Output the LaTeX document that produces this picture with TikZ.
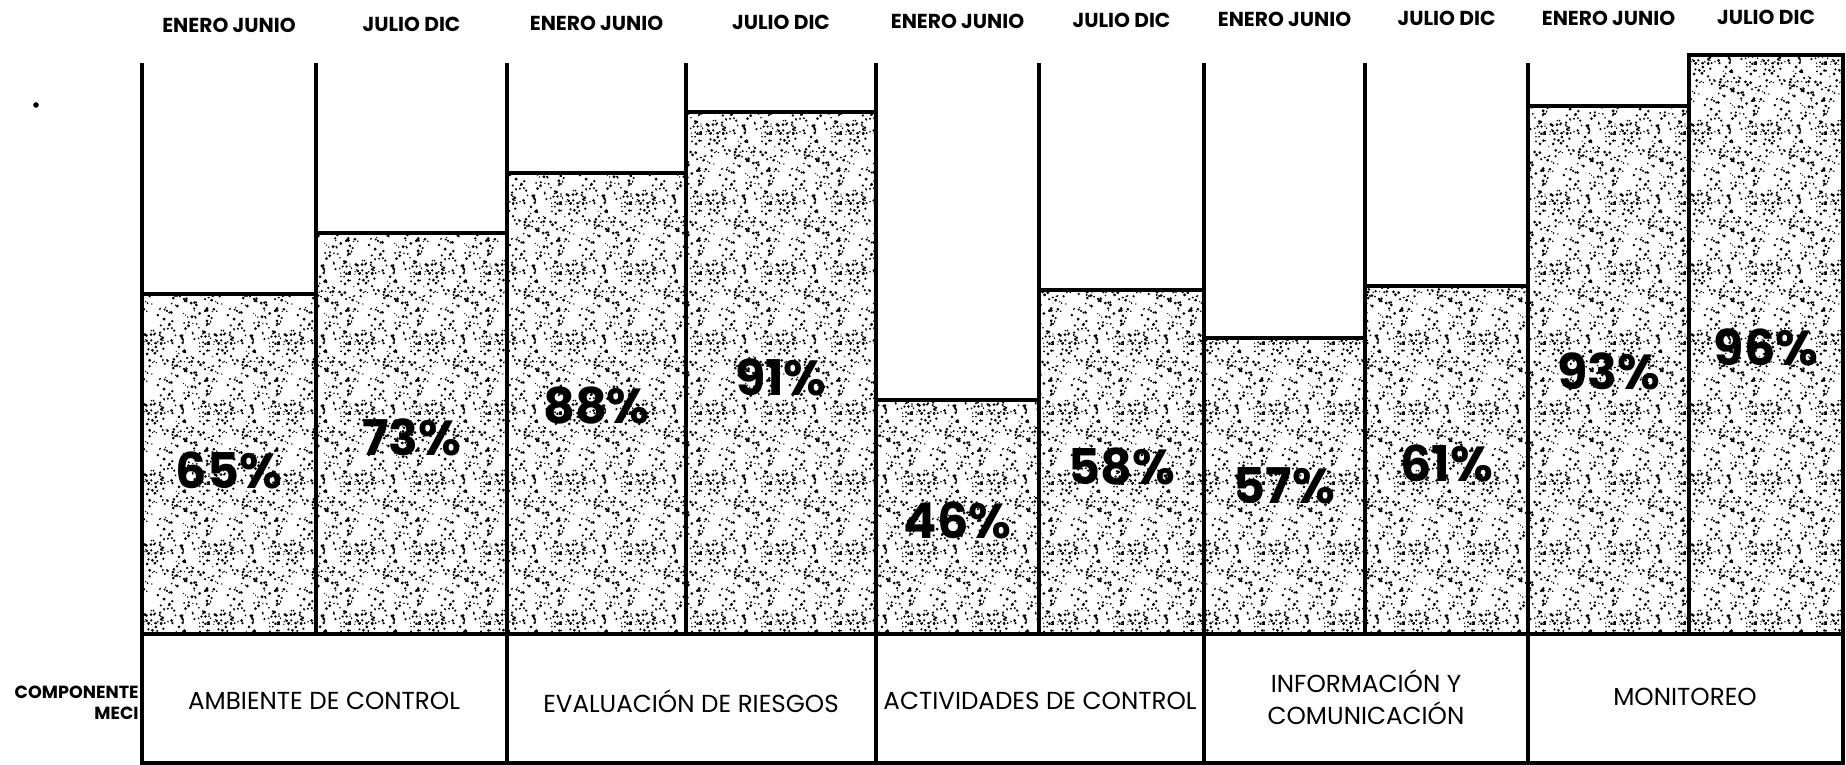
\documentclass[tikz,border=0pt]{standalone}
\usepackage{fontspec}
\setmainfont{Poppins}
\usetikzlibrary{patterns.meta}

%Stipple texture of the bars
\tikzdeclarepattern{
  name=stipple,
  type=colored,
  bottom left={(0pt,0pt)},
  top right={(40pt,40pt)},
  tile size={(40pt,40pt)},
  code={
    \pgfmathsetseed{4242}
    \foreach \d in {1,...,180}
      \fill[black] ({40pt*rnd},{40pt*rnd}) circle ({0.35pt+0.6pt*rnd});
  }
}

\begin{document}
\begin{tikzpicture}[x=0.2mm, y=-0.2mm,
  frameLine/.style={line width=2pt},
  barBlock/.style={frameLine, pattern=stipple},
  periodLabel/.style={font=\bfseries\fontsize{11.5}{13}\selectfont},
  percentLabel/.style={font=\bfseries\fontsize{28}{30}\selectfont},
  componentLabel/.style={font=\fontsize{14}{18}\selectfont, align=center}]

\useasboundingbox (0,0) rectangle (1846,765);

%Stray dot
\fill (36,105) circle (1.6pt);

%Column separators
\foreach \x in {142,316,507,686,876,1039,1204,1365,1528,1689}
  \draw[frameLine] (\x,63) -- (\x,634);

%Bars, periods and percentages
\foreach \xl/\xr/\ytop/\val/\ly/\per [count=\i] in {
  142/316/294/65/470/ENERO JUNIO,
  316/507/233/73/437/JULIO DIC,
  507/686/173/88/406/ENERO JUNIO,
  686/876/112/91/377/JULIO DIC,
  876/1039/400/46/520/ENERO JUNIO,
  1039/1204/290/58/467/JULIO DIC,
  1204/1365/338/57/486/ENERO JUNIO,
  1365/1528/286/61/463/JULIO DIC,
  1528/1689/106/93/371/ENERO JUNIO,
  1689/1843/55/96/347/JULIO DIC}
{
  \draw[barBlock] (\xl,\ytop) rectangle (\xr,634);
  \node (period\i) at ({(\xl+\xr)/2},{26-0.9*\i}) [periodLabel] {\per};
  \node (percent\i) at ({(\xl+\xr)/2},\ly) [percentLabel] {\val\%};
}

%Component table
\draw[frameLine] (142,634) rectangle (1843,763);
\foreach \x in {507,876,1204,1528}
  \draw[frameLine] (\x,634) -- (\x,763);

\node (componenteMeci) at (139,703) [anchor=east, align=right, inner sep=0pt,
  font=\bfseries\fontsize{10}{12}\selectfont] {COMPONENTE\\MECI};

\node (ambiente) at (324,701) [componentLabel] {AMBIENTE DE CONTROL};
\node (evaluacion) at (691,701) [componentLabel] {EVALUACIÓN DE RIESGOS};
\node (actividades) at (1040,701) [componentLabel] {ACTIVIDADES DE CONTROL};
\node (informacion) at (1366,697) [componentLabel] {INFORMACIÓN Y\\COMUNICACIÓN};
\node (monitoreo) at (1685,697) [componentLabel] {MONITOREO};

\end{tikzpicture}
\end{document}
